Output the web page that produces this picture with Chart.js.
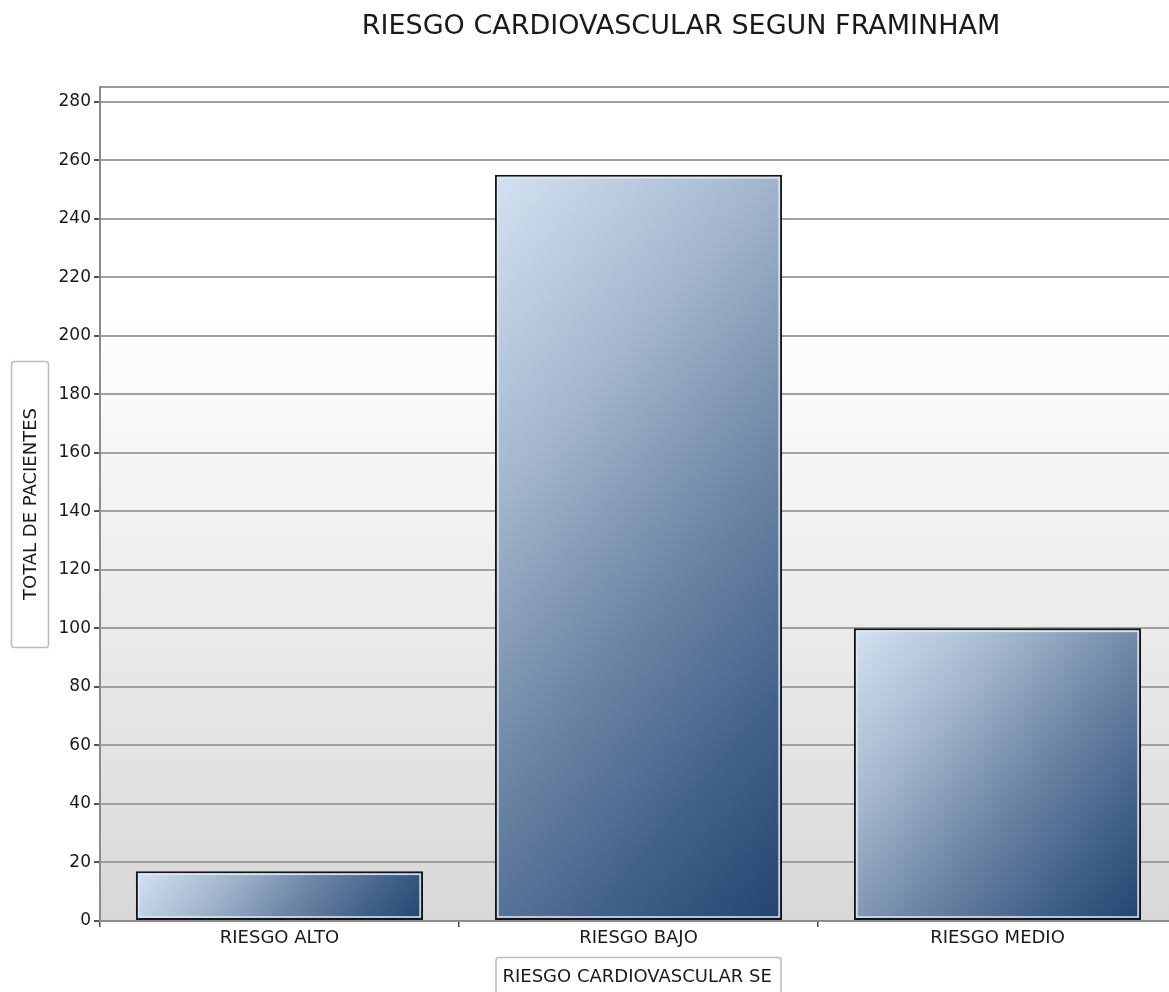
<!DOCTYPE html>
<html>
<head>
<meta charset="utf-8">
<script src="https://cdn.jsdelivr.net/npm/chart.js@4.4.1/dist/chart.umd.min.js"></script>
<style>
  html, body { margin: 0; padding: 0; background: #ffffff; overflow: hidden; }
  #wrap { width: 1362px; height: 992px; }
</style>
</head>
<body>
<div id="wrap"><canvas id="c" width="1362" height="992"></canvas></div>
<script>
// Chart data
const chartTitle = 'RIESGO CARDIOVASCULAR SEGUN FRAMINHAM';
const categories = ['RIESGO ALTO', 'RIESGO BAJO', 'RIESGO MEDIO'];
const patients = [17, 255, 100];
const yTickValues = [0, 20, 40, 60, 80, 100, 120, 140, 160, 180, 200, 220, 240, 260, 280];
const yAxisTitle = 'TOTAL DE PACIENTES';
const xAxisTitle = 'RIESGO CARDIOVASCULAR SE';

const FONT = '"DejaVu Sans", Verdana, sans-serif';
const BAR_PCT = 0.8;

// Blue gradient for each bar at a fixed ~40 degree angle, light top-left to dark bottom-right
function barGradient(ctx) {
  const chart = ctx.chart;
  const area = chart.chartArea;
  if (!area || ctx.dataIndex === undefined) return '#6f88a8';
  const xs = chart.scales.x, ys = chart.scales.y;
  const cx = xs.getPixelForValue(ctx.dataIndex);
  const step = xs.getPixelForValue(1) - xs.getPixelForValue(0);
  const w = step * BAR_PCT;
  const top = ys.getPixelForValue(patients[ctx.dataIndex]);
  const bottom = ys.getPixelForValue(0);
  const h = bottom - top;
  const ang = 40 * Math.PI / 180;
  const ux = Math.cos(ang), uy = Math.sin(ang);
  const len = w * ux + h * uy;
  const x0 = cx - w / 2, y0 = top;
  const g = chart.ctx.createLinearGradient(x0, y0, x0 + ux * len, y0 + uy * len);
  g.addColorStop(0, '#d3e2f2');
  g.addColorStop(0.3, '#a3b6cc');
  g.addColorStop(0.55, '#7088a7');
  g.addColorStop(0.8, '#41608a');
  g.addColorStop(1, '#24446f');
  return g;
}

// Plot background: white fading to light grey, plus the top frame line
const plotBackground = {
  id: 'plotBackground',
  beforeDraw(chart) {
    const { ctx, chartArea: a } = chart;
    ctx.save();
    const g = ctx.createLinearGradient(0, a.top, 0, a.bottom);
    g.addColorStop(0, '#ffffff');
    g.addColorStop(0.27, '#ffffff');
    g.addColorStop(1, '#d8d8d8');
    ctx.fillStyle = g;
    ctx.fillRect(a.left, a.top, a.right - a.left, a.bottom - a.top);
    ctx.strokeStyle = '#9a9a9a';
    ctx.lineWidth = 2;
    ctx.beginPath();
    ctx.moveTo(a.left, a.top);
    ctx.lineTo(a.right, a.top);
    ctx.stroke();
    ctx.restore();
  }
};

// Light inner rim inside the black bar outline
const barRim = {
  id: 'barRim',
  afterDatasetsDraw(chart) {
    const { ctx } = chart;
    const meta = chart.getDatasetMeta(0);
    ctx.save();
    ctx.strokeStyle = 'rgba(222,232,243,0.95)';
    ctx.lineWidth = 1.6;
    meta.data.forEach(bar => {
      const l = bar.x - bar.width / 2, t = bar.y;
      const h = bar.base - bar.y;
      ctx.strokeRect(l + 3, t + 3, bar.width - 6, h - 6);
    });
    ctx.restore();
  }
};

function roundRect(ctx, x, y, w, h, r) {
  ctx.beginPath();
  ctx.moveTo(x + r, y);
  ctx.lineTo(x + w - r, y);
  ctx.quadraticCurveTo(x + w, y, x + w, y + r);
  ctx.lineTo(x + w, y + h - r);
  ctx.quadraticCurveTo(x + w, y + h, x + w - r, y + h);
  ctx.lineTo(x + r, y + h);
  ctx.quadraticCurveTo(x, y + h, x, y + h - r);
  ctx.lineTo(x, y + r);
  ctx.quadraticCurveTo(x, y, x + r, y);
  ctx.closePath();
}

// Chart title and the boxed axis titles
const titles = {
  id: 'titles',
  afterDraw(chart) {
    const { ctx, chartArea: a } = chart;
    ctx.save();
    ctx.fillStyle = '#1a1a1a';
    ctx.font = '27px ' + FONT;
    ctx.textAlign = 'center';
    ctx.textBaseline = 'middle';
    ctx.fillText(chartTitle, chart.width / 2, 27);

    // y axis title box
    const cy = (a.top + a.bottom) / 2;
    roundRect(ctx, 11.5, cy - 142.5, 37, 286, 3);
    ctx.fillStyle = '#ffffff';
    ctx.fill();
    ctx.strokeStyle = '#b4bcc6';
    ctx.lineWidth = 1.5;
    ctx.stroke();
    ctx.save();
    ctx.translate(31, cy);
    ctx.rotate(-Math.PI / 2);
    ctx.fillStyle = '#1a1a1a';
    ctx.font = '18px ' + FONT;
    ctx.textAlign = 'center';
    ctx.textBaseline = 'middle';
    ctx.fillText(yAxisTitle, 0, 0);
    ctx.restore();

    // x axis title box (text clipped to the box)
    const cx = (a.left + a.right) / 2;
    const bx = cx - 143, by = a.bottom + 36;
    roundRect(ctx, bx + 0.5, by + 0.5, 285, 44, 3);
    ctx.fillStyle = '#ffffff';
    ctx.fill();
    ctx.strokeStyle = '#b4bcc6';
    ctx.lineWidth = 1.5;
    ctx.stroke();
    ctx.save();
    ctx.beginPath();
    ctx.rect(bx + 2, by + 2, 281, 40);
    ctx.clip();
    ctx.fillStyle = '#1a1a1a';
    ctx.font = '18px ' + FONT;
    ctx.textAlign = 'left';
    ctx.textBaseline = 'middle';
    ctx.fillText(xAxisTitle, bx + 7, by + 20);
    ctx.restore();
    ctx.restore();
  }
};

new Chart(document.getElementById('c'), {
  type: 'bar',
  data: {
    labels: categories,
    datasets: [{
      label: yAxisTitle,
      data: patients,
      backgroundColor: barGradient,
      borderColor: '#151515',
      borderWidth: 2,
      borderSkipped: false,
      barPercentage: BAR_PCT,
      categoryPercentage: 1.0
    }]
  },
  options: {
    responsive: false,
    animation: false,
    layout: { padding: { top: 87, right: 185, bottom: 0, left: 0 } },
    plugins: {
      legend: { display: false },
      title: { display: false },
      tooltip: { enabled: false }
    },
    scales: {
      x: {
        offset: true,
        grid: { display: true, drawOnChartArea: false, offset: true, tickLength: 6, tickColor: '#444', lineWidth: 1.5 },
        border: { display: true, color: '#8c8c8c', width: 2 },
        ticks: { font: { family: FONT, size: 18 }, color: '#1a1a1a', padding: 1 },
        afterFit(scale) { scale.height = 71; }
      },
      y: {
        min: 0,
        max: 285,
        afterBuildTicks(scale) { scale.ticks = yTickValues.map(v => ({ value: v })); },
        grid: { color: '#a0a0a0', lineWidth: 2, tickLength: 6, tickColor: '#555' },
        border: { display: true, color: '#8c8c8c', width: 2 },
        ticks: { font: { family: FONT, size: 17 }, color: '#1a1a1a', padding: 3 },
        afterFit(scale) { scale.width = 100; }
      }
    }
  },
  plugins: [plotBackground, barRim, titles]
});
</script>
</body>
</html>
